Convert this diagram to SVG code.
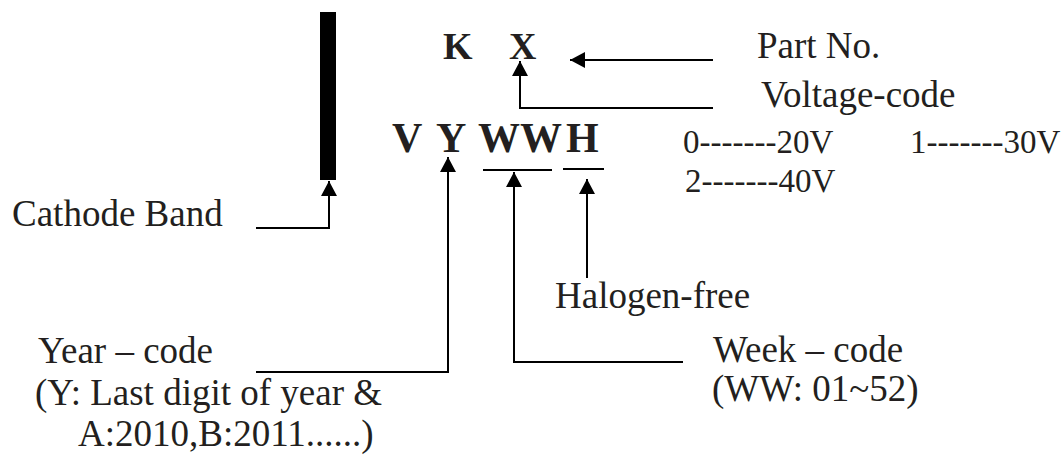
<svg xmlns="http://www.w3.org/2000/svg" width="1062" height="472" viewBox="0 0 1062 472">
<defs>
<style>
text{font-family:"Liberation Serif","Times New Roman",serif;fill:#231f20;font-size:37px}
.b{font-weight:bold;}
.code{font-size:42px}
.kx{font-size:38px}
.v{font-size:33px}
.ln{fill:none;stroke:#000;stroke-width:2}
</style>
<marker id="ah" markerUnits="userSpaceOnUse" markerWidth="16" markerHeight="16" refX="15" refY="8" orient="auto">
<path d="M0,0 L15,8 L0,16 z" fill="#000"/>
</marker>
</defs>
<rect width="1062" height="472" fill="#fff"/>
<g id="band"><rect x="320" y="12" width="16" height="168" fill="#000"/></g>
<g id="kx"><text class="b kx" x="443" y="59">K</text><text class="b kx" x="509" y="59">X</text></g>
<g id="code"><text class="b code" x="392" y="152">V</text><text class="b code" x="436" y="152">Y</text><text class="b code" x="478" y="152">WW</text><text class="b code" x="566" y="152">H</text>
<line class="ln" x1="483" y1="170" x2="552" y2="170"/><line class="ln" x1="563" y1="169" x2="604" y2="169"/></g>
<g id="partno"><text x="757" y="58">Part No.</text></g>
<g id="voltage"><text x="761" y="107">Voltage-code</text>
<text class="v" x="683" y="153">0-------20V</text>
<text class="v" x="910" y="153">1-------30V</text>
<text class="v" x="685" y="192">2-------40V</text></g>
<g id="cathode"><text x="12" y="226">Cathode Band</text></g>
<g id="halogen"><text x="555" y="308">Halogen-free</text></g>
<g id="year"><text x="38" y="363">Year – code</text><text x="35" y="405">(Y: Last digit of year &amp;</text><text x="78" y="446">A:2010,B:2011......)</text></g>
<g id="week"><text x="713" y="362">Week – code</text><text x="712" y="401">(WW: 01~52)</text></g>
<g id="connectors">
<polyline class="ln" points="713,60 570,60" marker-end="url(#ah)"/>
<polyline class="ln" points="713,108 520,108 520,61" marker-end="url(#ah)"/>
<polyline class="ln" points="256,228 329,228 329,181" marker-end="url(#ah)"/>
<polyline class="ln" points="256,372 448,372 448,157" marker-end="url(#ah)"/>
<polyline class="ln" points="683,362 514,362 514,172" marker-end="url(#ah)"/>
<polyline class="ln" points="587,278 587,179" marker-end="url(#ah)"/>
</g>
</svg>
